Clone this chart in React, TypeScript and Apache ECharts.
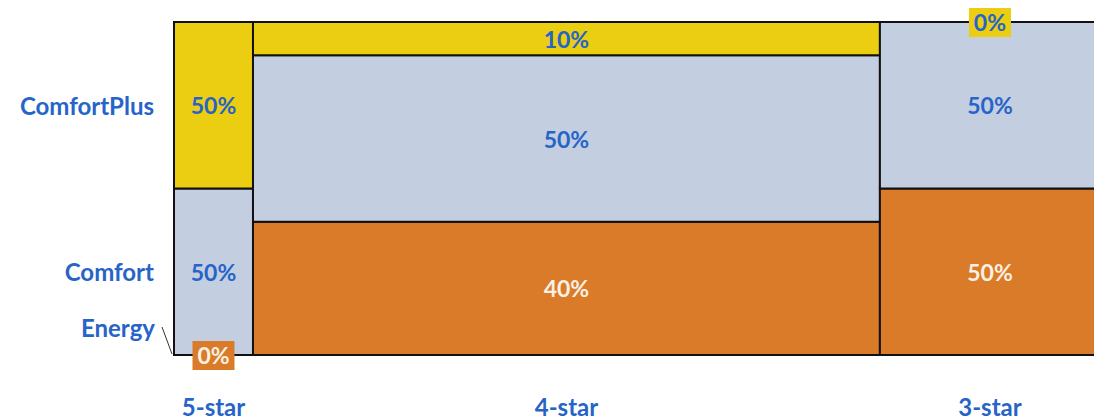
import React, { useEffect, useRef } from "react";
import * as echarts from "echarts";

const columns = ["5-star", "4-star", "3-star"];
const columnShares = [8.53, 67.7, 23.77];
const rows = ["Energy", "Comfort", "ComfortPlus"];
const energy = [0, 40, 50];
const comfort = [50, 50, 50];
const comfortPlus = [50, 10, 0];

const rowValues = [energy, comfort, comfortPlus];
const rowColors = ["#d97b28", "#c4cee1", "#ebcd12"];
const labelColors = ["#fbf0e4", "#2664c8", "#2664c8"];
const BLUE = "#2664c8";
const FONT = "Lato";
// visible part of the x range (the last column runs past the right edge)
const X_VISIBLE_MAX = 99.35;

export default function App() {
  const ref = useRef<HTMLDivElement>(null);
  useEffect(() => {
    document.body.style.margin = "0";
    const chart = echarts.init(ref.current!, null, { renderer: "svg" });
    const data: number[][] = [];
    columns.forEach((_, c) => rows.forEach((__, r) => data.push([c, r])));
    const starts: number[] = [];
    let acc = 0;
    columnShares.forEach((s) => {
      starts.push(acc);
      acc += s;
    });

    const renderItem = (params: any, api: any) => {
      const c = api.value(0);
      const r = api.value(1);
      const xa = starts[c];
      const xb = xa + columnShares[c];
      let ya = 0;
      for (let i = 0; i < r; i++) ya += rowValues[i][c];
      const v = rowValues[r][c];
      const yb = ya + v;
      const p0 = api.coord([xa, ya]);
      const p1 = api.coord([xb, yb]);
      const cx = (p0[0] + p1[0]) / 2;
      const cy = (p0[1] + p1[1]) / 2;
      const children: any[] = [];
      const font = `bold 23px ${FONT}`;
      const catFont = `bold 24px ${FONT}`;
      if (v > 0) {
        children.push({
          type: "rect",
          shape: { x: p0[0], y: p1[1], width: p1[0] - p0[0], height: p0[1] - p1[1] },
          style: { fill: rowColors[r], stroke: "#111", lineWidth: 2 },
        });
        children.push({
          type: "text",
          x: cx,
          y: cy,
          z2: 10,
          style: { text: v + "%", fill: labelColors[r], font, align: "center", verticalAlign: "middle" },
        });
      } else {
        children.push({
          type: "rect",
          z2: 20,
          shape: { x: cx - 21, y: cy - 14, width: 42, height: 29 },
          style: { fill: rowColors[r] },
        });
        children.push({
          type: "text",
          x: cx,
          y: cy,
          z2: 21,
          style: { text: v + "%", fill: labelColors[r], font, align: "center", verticalAlign: "middle" },
        });
      }
      if (c === 0) {
        const gx = api.coord([0, 0])[0];
        if (v > 0) {
          children.push({
            type: "text",
            x: gx - 20,
            y: cy,
            style: { text: rows[r], fill: BLUE, font: catFont, align: "right", verticalAlign: "middle" },
          });
        } else {
          children.push({
            type: "text",
            x: gx - 19,
            y: cy - 28,
            style: { text: rows[r], fill: BLUE, font: catFont, align: "right", verticalAlign: "middle" },
          });
          children.push({
            type: "line",
            shape: { x1: gx - 12, y1: cy - 28, x2: gx - 2, y2: cy - 1 },
            style: { stroke: "#333", lineWidth: 1 },
          });
        }
      }
      if (r === 0) {
        const by = api.coord([0, 0])[1];
        children.push({
          type: "text",
          x: cx,
          y: by + 51,
          style: { text: columns[c], fill: BLUE, font: catFont, align: "center", verticalAlign: "middle" },
        });
      }
      return { type: "group", children };
    };

    chart.setOption({
      animation: false,
      grid: { left: 174, top: 22, bottom: 64, right: 0 },
      xAxis: { type: "value", min: 0, max: X_VISIBLE_MAX, show: false },
      yAxis: { type: "value", min: 0, max: 100, show: false },
      series: [
        {
          type: "custom",
          renderItem,
          clip: false,
          data,
        },
      ],
    });
    return () => chart.dispose();
  }, []);
  return <div ref={ref} style={{ width: 1094, height: 419, overflow: "hidden" }} />;
}
